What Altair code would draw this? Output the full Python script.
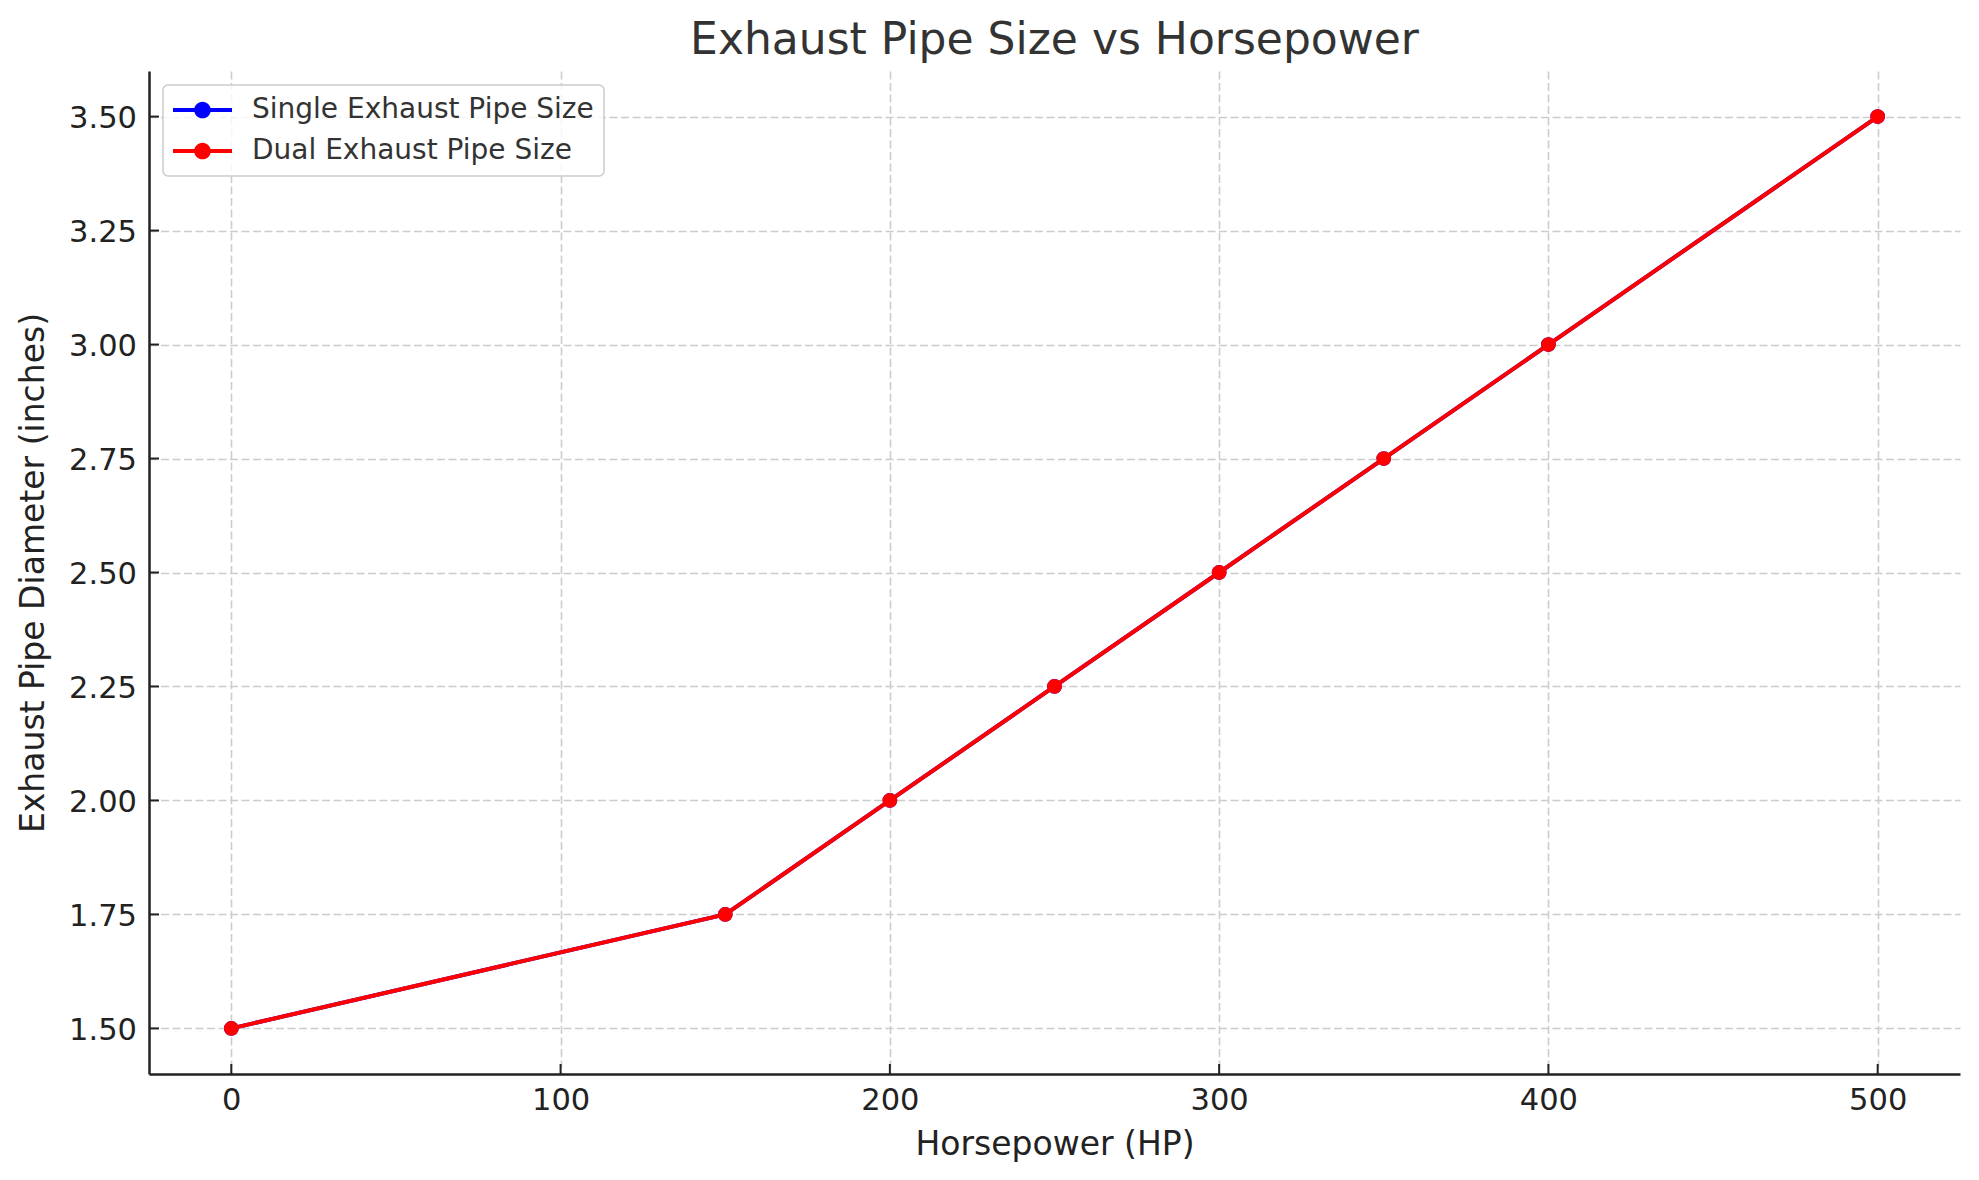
import altair as alt
import pandas as pd

# ---- data ----
HORSEPOWER = [0, 150, 200, 250, 300, 350, 400, 500]
SINGLE = [1.50, 1.75, 2.00, 2.25, 2.50, 2.75, 3.00, 3.50]
DUAL = [1.50, 1.75, 2.00, 2.25, 2.50, 2.75, 3.00, 3.50]
SERIES = ["Single Exhaust Pipe Size", "Dual Exhaust Pipe Size"]
COLORS = ["#0000ff", "#ff0000"]
X_TICKS = [0, 100, 200, 300, 400, 500]
Y_TICKS = [1.50, 1.75, 2.00, 2.25, 2.50, 2.75, 3.00, 3.25, 3.50]

rows = []
for name, vals in zip(SERIES, [SINGLE, DUAL]):
    for h, v in zip(HORSEPOWER, vals):
        rows.append({"hp": h, "d": v, "series": name})
df = pd.DataFrame(rows)
xt = pd.DataFrame({"hp": X_TICKS})
yt = pd.DataFrame({"d": Y_TICKS})

W, H = 1811, 1003
FONT = "DejaVu Sans"

xscale = alt.Scale(domain=[-25, 525], nice=False, zero=False)
yscale = alt.Scale(domain=[1.4, 3.6], nice=False, zero=False)

xaxis = alt.Axis(values=X_TICKS, format="d", title="Horsepower (HP)",
                 grid=True, gridDash=[8, 3.5], gridColor="#cccccc", gridWidth=1.6,
                 ticks=False, tickSize=0, domainColor="#222222", domainWidth=2.5,
                 labelFont=FONT, labelFontSize=30.5, labelColor="#222222",
                 labelBaseline="alphabetic", labelPadding=35,
                 titleFont=FONT, titleFontSize=33, titleFontWeight="normal", titleColor="#222222",
                 titleBaseline="alphabetic", titleX=W / 2, titleY=80, titleAlign="center")
yaxis = alt.Axis(values=Y_TICKS, format=".2f", title="Exhaust Pipe Diameter (inches)",
                 grid=True, gridDash=[8, 3.5], gridColor="#cccccc", gridWidth=1.6,
                 ticks=False, tickSize=0, domainColor="#222222", domainWidth=2.5,
                 labelFont=FONT, labelFontSize=30.5, labelColor="#222222",
                 labelPadding=12.5, labelOffset=2,
                 titleFont=FONT, titleFontSize=33, titleFontWeight="normal", titleColor="#222222",
                 titleBaseline="alphabetic", titleAngle=270, titleX=-106, titleY=H / 2,
                 titleAlign="center")

SYMBOL = ("M-1,-0.068 L1,-0.068 L1,0.068 L-1,0.068 Z "
          "M-0.282,0 A0.282,0.282 0 1,1 0.282,0 A0.282,0.282 0 1,1 -0.282,0 Z")

legend = alt.Legend(title=None, orient="top-left", offset=14,
                    symbolType=SYMBOL, symbolSize=3481, symbolStrokeWidth=0,
                    symbolOpacity=1,
                    labelFont=FONT, labelFontSize=28, labelColor="#333333",
                    labelOffset=20, labelLimit=1000,
                    padding=10, rowPadding=11, clipHeight=30,
                    fillColor="rgba(255,255,255,0.8)", strokeColor="#cccccc",
                    cornerRadius=5)

fill_scale = alt.Scale(domain=SERIES, range=COLORS)

layers = []
for name, col in zip(SERIES, COLORS):
    sub = df[df["series"] == name]
    line = alt.Chart(sub).mark_line(strokeWidth=4, color=col).encode(
        x=alt.X("hp:Q", scale=xscale, axis=xaxis),
        y=alt.Y("d:Q", scale=yscale, axis=yaxis),
    )
    pts = alt.Chart(sub).mark_circle(size=218, opacity=1).encode(
        x=alt.X("hp:Q", scale=xscale, axis=xaxis),
        y=alt.Y("d:Q", scale=yscale, axis=yaxis),
        fill=alt.Fill("series:N", scale=fill_scale, legend=legend),
    )
    layers += [line, pts]

xticks = alt.Chart(xt).mark_rule(color="#222222", strokeWidth=2).encode(
    x=alt.X("hp:Q", scale=xscale, axis=xaxis),
    y=alt.value(H - 10), y2=alt.value(H),
)
yticks = alt.Chart(yt).mark_rule(color="#222222", strokeWidth=2).encode(
    y=alt.Y("d:Q", scale=yscale, axis=yaxis),
    x=alt.value(0), x2=alt.value(10),
)

chart = alt.layer(xticks, yticks, *layers).properties(
    width=W, height=H,
    title=alt.TitleParams("Exhaust Pipe Size vs Horsepower", font=FONT, fontSize=44,
                          fontWeight="normal", color="#333333", anchor="middle",
                          baseline="alphabetic", offset=18, dy=45),
    autosize=alt.AutoSizeParams(type="none"),
    padding={"left": 141, "top": 63, "right": 11, "bottom": 98},
).configure_view(stroke=None).configure_legend(strokeWidth=1.5)

chart.save("out.html", embed_options={"renderer": "svg", "actions": False})
